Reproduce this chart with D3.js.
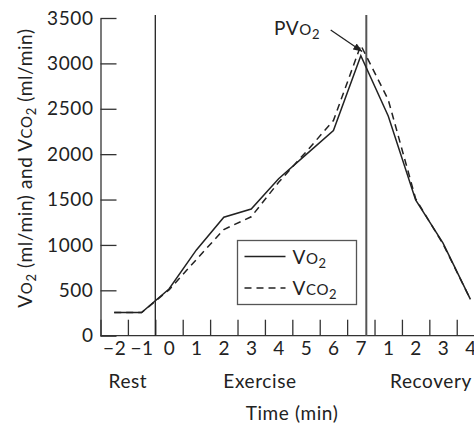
<!DOCTYPE html>
<html>
<head>
<meta charset="utf-8">
<script src="https://cdn.jsdelivr.net/npm/d3@7"></script>
<style>
  body { margin: 0; background: #fff; }
  svg { display: block; font-family: Lato, "Open Sans", sans-serif; }
  .axis path, .axis line { stroke: #333; stroke-width: 1.3; }
  .axis text { fill: #222; font-size: 19px; font-family: Lato, "Open Sans", sans-serif; letter-spacing: 0.6px; }
</style>
</head>
<body>
<svg></svg>
<script>
let times = [-2, -1, 0, 1, 2, 3, 4, 5, 6, 7, 8, 9, 10, 11]
let vo2 = [255, 255, 515, 945, 1305, 1395, 1730, 1995, 2260, 3085, 2420, 1495, 1020, 400]
let vco2 = [255, 255, 505, 840, 1170, 1310, 1690, 2025, 2370, 3200, 2600, 1510, 1010, 400]

let timeLabels = ['−2', '−1', '0', '1', '2', '3', '4', '5', '6', '7', '1', '2', '3', '4']
let tickTimes = [-2.5, -1.5, -0.5, 0.5, 1.5, 2.5, 3.5, 4.5, 5.5, 6.5, 7.5, 8.5, 9.5, 10.5]
let yTicks = [0, 500, 1000, 1500, 2000, 2500, 3000, 3500]

let phases = ['Rest', 'Exercise', 'Recovery']
let phaseAt = [-1.5, 3.32, 9.56]
let markers = [-0.5, 7.2]

let width = 474
let height = 425

let svg = d3.select('svg')
  .attr('width', width)
  .attr('height', height)

let xScale = d3.scaleLinear().domain([-2.5, 11.13]).range([100.5, 474])
let yScale = d3.scaleLinear().domain([0, 3500]).range([335.7, 18])

// axes
let xAxis = d3.axisBottom(xScale)
  .tickValues(tickTimes)
  .tickSize(-16)
  .tickFormat('')

svg.append('g')
  .attr('class', 'axis')
  .attr('transform', 'translate(0,' + yScale(0) + ')')
  .call(xAxis)
  .call(g => g.select('.domain').attr('d', 'M' + xScale(-2.5) + ',0H' + width))

let xLabelAxis = d3.axisBottom(xScale)
  .tickValues(times)
  .tickSize(0)
  .tickPadding(6)
  .tickFormat((d, i) => timeLabels[i])

svg.append('g')
  .attr('class', 'axis')
  .attr('transform', 'translate(0,' + yScale(0) + ')')
  .call(xLabelAxis)
  .call(g => g.select('.domain').remove())

let yAxis = d3.axisLeft(yScale)
  .tickValues(yTicks)
  .tickSize(-16)
  .tickPadding(7)
  .tickSizeOuter(0)
  .tickFormat(d3.format('d'))

svg.append('g')
  .attr('class', 'axis')
  .attr('transform', 'translate(' + xScale(-2.5) + ',0)')
  .call(yAxis)

// phase markers
svg.selectAll('.marker')
  .data(markers)
  .enter()
  .append('line')
  .attr('class', 'marker')
  .attr('x1', d => xScale(d))
  .attr('x2', d => xScale(d))
  .attr('y1', yScale(0))
  .attr('y2', 15)
  .attr('stroke', (d, i) => i == 0 ? '#222' : '#555')
  .attr('stroke-width', (d, i) => i == 0 ? 1.3 : 2)

// lines
let line = d3.line()
  .x((d, i) => xScale(times[i]))
  .y(d => yScale(d))

svg.append('path')
  .datum(vo2)
  .attr('d', line)
  .attr('fill', 'none')
  .attr('stroke', '#222')
  .attr('stroke-width', 1.5)

svg.append('path')
  .datum(vco2)
  .attr('d', line)
  .attr('fill', 'none')
  .attr('stroke', '#222')
  .attr('stroke-width', 1.5)
  .attr('stroke-dasharray', '7,5')

// phase labels
svg.selectAll('.phase')
  .data(phases)
  .enter()
  .append('text')
  .attr('class', 'phase')
  .attr('x', (d, i) => xScale(phaseAt[i]))
  .attr('y', 388)
  .attr('text-anchor', 'middle')
  .attr('font-size', 19)
  .attr('letter-spacing', 0.6)
  .attr('fill', '#222')
  .text(d => d)

svg.append('text')
  .attr('x', 292)
  .attr('y', 420)
  .attr('text-anchor', 'middle')
  .attr('font-size', 19)
  .attr('letter-spacing', 0.6)
  .attr('fill', '#222')
  .text('Time (min)')

let addChem = (el, parts) => {
  parts.forEach(p => {
    el.append('tspan')
      .attr('font-size', p[1])
      .attr('dy', p[2] || 0)
      .text(p[0])
  })
}

// y label
let yLabel = svg.append('text')
  .attr('transform', 'translate(32,' + 168 + ') rotate(-90)')
  .attr('text-anchor', 'middle')
  .attr('letter-spacing', 0.6)
  .attr('fill', '#222')
addChem(yLabel, [['V', 19], ['O', 15], ['2', 13, 4], [' (ml/min) and V', 19, -4], ['CO', 15], ['2', 13, 4], [' (ml/min)', 19, -4]])

// PVO2 annotation
let pv = svg.append('text')
  .attr('x', xScale(3.83))
  .attr('y', yScale(3313))
  .attr('letter-spacing', 0.6)
  .attr('fill', '#222')
addChem(pv, [['PV', 19], ['O', 15], ['2', 13, 4]])

svg.append('defs').append('marker')
  .attr('id', 'head')
  .attr('viewBox', '0 0 10 10')
  .attr('refX', 10)
  .attr('refY', 5)
  .attr('markerWidth', 7)
  .attr('markerHeight', 7)
  .attr('orient', 'auto')
  .append('path')
  .attr('d', 'M0,1L10,5L0,9Z')
  .attr('fill', '#222')

svg.append('line')
  .attr('x1', xScale(5.9))
  .attr('y1', yScale(3368))
  .attr('x2', xScale(7.05))
  .attr('y2', yScale(3130))
  .attr('stroke', '#222')
  .attr('stroke-width', 1.3)
  .attr('marker-end', 'url(#head)')

// legend
let legend = svg.append('g').attr('transform', 'translate(237.5,240.5)')
legend.append('rect')
  .attr('width', 119)
  .attr('height', 64)
  .attr('fill', '#fff')
  .attr('stroke', '#555')
  .attr('stroke-width', 1.3)

let legendItems = [
  { parts: [['V', 19], ['O', 15], ['2', 13, 4]], dash: null },
  { parts: [['V', 19], ['CO', 15], ['2', 13, 4]], dash: '7,5' }
]
legendItems.forEach((item, i) => {
  let yy = 16 + i * 31.5
  legend.append('line')
    .attr('x1', 7).attr('x2', 48)
    .attr('y1', yy).attr('y2', yy)
    .attr('stroke', '#222')
    .attr('stroke-width', 1.5)
    .attr('stroke-dasharray', item.dash)
  let t = legend.append('text')
    .attr('x', 55)
    .attr('y', yy + 7)
    .attr('letter-spacing', 0.6)
    .attr('fill', '#222')
  addChem(t, item.parts)
})
</script>
</body>
</html>
